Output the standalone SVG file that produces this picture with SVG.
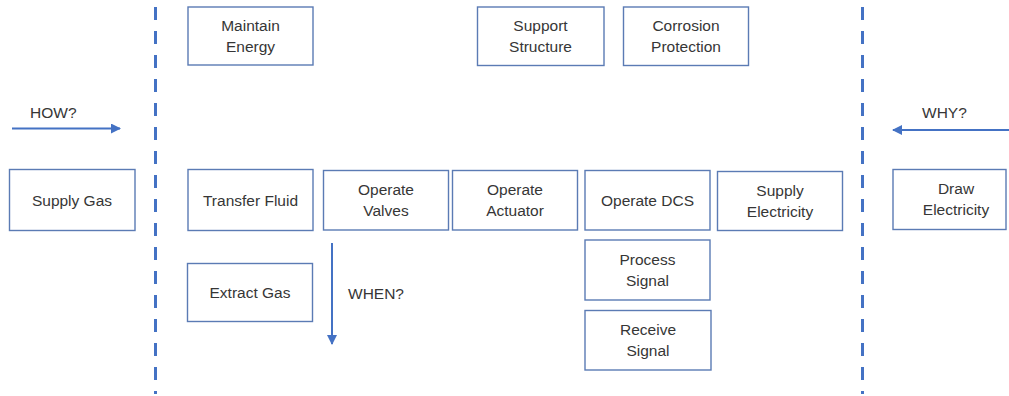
<svg xmlns="http://www.w3.org/2000/svg" width="1009" height="396" viewBox="0 0 1009 396">
  <style>
    .box rect { fill: #ffffff; stroke: #5b7bb4; stroke-width: 1.4; }
    .box text { font-family: "Liberation Sans", Arial, sans-serif; font-size: 15.5px; fill: #363636; text-anchor: middle; }
    .lbl { font-family: "Liberation Sans", Arial, sans-serif; font-size: 15.5px; fill: #363636; }
    .divider { stroke: #4472c4; stroke-width: 3; stroke-dasharray: 13 11; fill: none; }
    .arrow { stroke: #4472c4; stroke-width: 2; fill: none; marker-end: url(#head); }
  </style>
  <defs>
    <marker id="head" viewBox="0 0 10 10" refX="9" refY="5" markerWidth="5" markerHeight="5" orient="auto" markerUnits="strokeWidth">
      <path d="M0,0 L10,5 L0,10 z" fill="#4472c4"/>
    </marker>
  </defs>
  <rect width="1009" height="396" fill="#ffffff"/>

  <!-- dividers and direction arrows -->
  <g id="connectors">
    <line class="divider" x1="155.5" y1="7" x2="155.5" y2="394"/>
    <line class="divider" x1="862.5" y1="7" x2="862.5" y2="394"/>
    <line class="arrow" x1="12" y1="128.5" x2="120" y2="128.5"/>
    <line class="arrow" x1="1009" y1="130" x2="893" y2="130"/>
    <line class="arrow" x1="332" y1="243" x2="332" y2="344"/>
    <text class="lbl" x="30" y="118">HOW?</text>
    <text class="lbl" x="922" y="118">WHY?</text>
    <text class="lbl" x="348" y="299">WHEN?</text>
  </g>

  <!-- function boxes -->
  <g id="maintain-energy" class="box">
    <rect x="188" y="7" width="125" height="58"/>
    <text x="250.5" y="31">Maintain</text>
    <text x="250.5" y="52">Energy</text>
  </g>
  <g id="support-structure" class="box">
    <rect x="477.5" y="7" width="126.5" height="58.5"/>
    <text x="540.5" y="31">Support</text>
    <text x="540.5" y="52">Structure</text>
  </g>
  <g id="corrosion-protection" class="box">
    <rect x="623.5" y="7" width="125" height="58.5"/>
    <text x="686" y="31">Corrosion</text>
    <text x="686" y="52">Protection</text>
  </g>
  <g id="supply-gas" class="box">
    <rect x="9.5" y="169.5" width="125.5" height="61"/>
    <text x="72" y="205.5">Supply Gas</text>
  </g>
  <g id="transfer-fluid" class="box">
    <rect x="188" y="169.5" width="125" height="61"/>
    <text x="250.5" y="205.5">Transfer Fluid</text>
  </g>
  <g id="operate-valves" class="box">
    <rect x="323.5" y="170.5" width="125" height="59.5"/>
    <text x="386" y="194.5">Operate</text>
    <text x="386" y="215.5">Valves</text>
  </g>
  <g id="operate-actuator" class="box">
    <rect x="452.5" y="170.5" width="125" height="59.5"/>
    <text x="515" y="194.5">Operate</text>
    <text x="515" y="215.5">Actuator</text>
  </g>
  <g id="operate-dcs" class="box">
    <rect x="585" y="170.5" width="125" height="59.5"/>
    <text x="647.5" y="205.5">Operate DCS</text>
  </g>
  <g id="supply-electricity" class="box">
    <rect x="717.5" y="171.5" width="125" height="59"/>
    <text x="780" y="196">Supply</text>
    <text x="780" y="217">Electricity</text>
  </g>
  <g id="draw-electricity" class="box">
    <rect x="893" y="169.5" width="113" height="60"/>
    <text x="956" y="193.5">Draw</text>
    <text x="956" y="214.5">Electricity</text>
  </g>
  <g id="extract-gas" class="box">
    <rect x="187.5" y="263.5" width="125" height="58"/>
    <text x="250" y="298">Extract Gas</text>
  </g>
  <g id="process-signal" class="box">
    <rect x="585" y="240" width="125" height="60"/>
    <text x="647.5" y="265">Process</text>
    <text x="647.5" y="286">Signal</text>
  </g>
  <g id="receive-signal" class="box">
    <rect x="585" y="310.5" width="126" height="59.5"/>
    <text x="648" y="334.5">Receive</text>
    <text x="648" y="355.5">Signal</text>
  </g>
</svg>
